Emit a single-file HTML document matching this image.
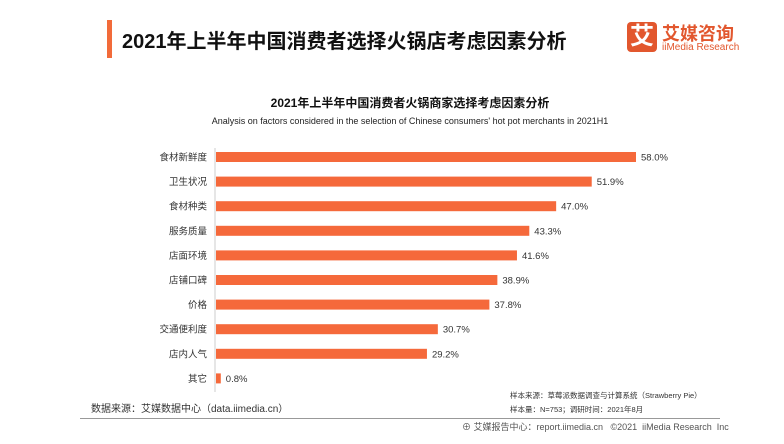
<!DOCTYPE html>
<html><head><meta charset="utf-8"><style>
body{margin:0;width:784px;height:444px;background:#fff;position:relative;overflow:hidden;font-family:"Liberation Sans","Noto Sans CJK SC",sans-serif;color:#222}
.a{position:absolute;white-space:nowrap}
</style></head><body>
<div class="a" style="left:107px;top:20px;width:5px;height:38px;background:#f26b3a"></div>
<div class="a" style="left:122px;top:25px;font-size:20px;font-weight:bold;color:#111">2021年上半年中国消费者选择火锅店考虑因素分析</div>
<div class="a" style="left:627px;top:22px;width:30px;height:30px;background:#e2572e;border-radius:4px;color:#fff;font-size:24px;font-weight:bold;text-align:center;line-height:30px">艾</div>
<div class="a" style="left:662px;top:20px;font-size:18px;font-weight:bold;color:#e2572e">艾媒咨询</div>
<div class="a" style="left:662px;top:42px;font-size:10px;color:#e2572e">iiMedia Research</div>
<div class="a" style="left:0;width:784px;text-align:center;top:94px;font-size:12px;font-weight:bold;color:#111;padding-left:36px;box-sizing:border-box">2021年上半年中国消费者火锅商家选择考虑因素分析</div>
<div class="a" style="left:0;width:784px;text-align:center;top:116px;font-size:9px;color:#222;padding-left:36px;box-sizing:border-box">Analysis on factors considered in the selection of Chinese consumers' hot pot merchants in 2021H1</div>
<svg class="a" style="left:0;top:0" width="784" height="444" id="chart"></svg>
<div class="a" style="left:91px;top:400px;font-size:10px;color:#333">数据来源：艾媒数据中心（data.iimedia.cn）</div>
<div class="a" style="left:510px;top:390px;font-size:7.5px;color:#333">样本来源：草莓派数据调查与计算系统（Strawberry Pie）</div>
<div class="a" style="left:510px;top:404px;font-size:7.5px;color:#333">样本量：N=753；调研时间：2021年8月</div>
<div class="a" style="left:80px;top:418px;width:640px;height:1px;background:#999"></div>
<div class="a" style="left:462px;top:420px;font-size:9px;color:#555">⊕ 艾媒报告中心：report.iimedia.cn &nbsp; ©2021 &nbsp;iiMedia Research &nbsp;Inc</div>
<script>
const categories=["食材新鲜度","卫生状况","食材种类","服务质量","店面环境","店铺口碑","价格","交通便利度","店内人气","其它"];
const values=[58.0,51.9,47.0,43.3,41.6,38.9,37.8,30.7,29.2,0.8];
const svg=document.getElementById('chart');const NS="http://www.w3.org/2000/svg";
const x0=215,pxPer=421/58,y0=157,step=24.6,bh=10;
const xs=v=>x0+v*pxPer, ys=i=>y0+i*step;
const ax=document.createElementNS(NS,'line');


ax.setAttribute('x1',x0);ax.setAttribute('x2',x0);ax.setAttribute('y1',148);ax.setAttribute('y2',392);ax.setAttribute('stroke','#ccc');
svg.appendChild(ax);
categories.forEach((c,i)=>{
 const y=ys(i);
 const r=document.createElementNS(NS,'rect');
 
 
 r.setAttribute('x',x0+1);r.setAttribute('y',y-bh/2);r.setAttribute('width',Math.max(1,xs(values[i])-x0-1));r.setAttribute('height',bh);r.setAttribute('fill','#f5693b');
 svg.appendChild(r);
 const t=document.createElementNS(NS,'text');
 
 
 t.setAttribute('x',x0-8);t.setAttribute('y',y+3.5);t.setAttribute('text-anchor','end');t.setAttribute('font-size','9.5');t.setAttribute('fill','#333');
 t.textContent=c;svg.appendChild(t);
 const v=document.createElementNS(NS,'text');
 
 
 v.setAttribute('x',xs(values[i])+5);v.setAttribute('y',y+3.5);v.setAttribute('font-size','9.5');v.setAttribute('fill','#333');
 v.textContent=values[i].toFixed(1)+'%';svg.appendChild(v);
});
</script>
</body></html>
